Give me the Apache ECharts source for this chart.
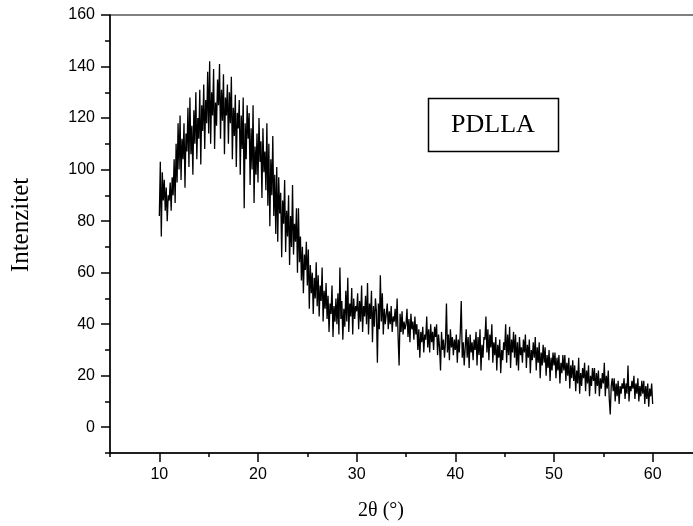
<!DOCTYPE html>
<html><head><meta charset="utf-8">
<script src="https://cdn.jsdelivr.net/npm/echarts@6/dist/echarts.min.js"></script>
<style>html,body{margin:0;padding:0;background:#fff}#c{width:693px;height:526px}</style>
</head><body><div id="c"></div>
<script>
// 2-theta sampling grid (degrees)
const angleStart = 10;
const angleStep = 0.1;
// Intensity, one row per degree (x.0 ... x.9)
const intensity = [
  82,103,74,99,88,96,84,93,80,90,
  88,95,84,97,90,104,87,110,95,118,
  100,121,96,112,104,118,93,114,107,124,
  101,128,106,117,98,123,110,130,104,120,
  112,131,102,125,115,133,108,127,118,138,
  114,142,110,130,121,139,108,126,117,135,
  125,141,112,131,119,137,106,128,121,133,
  110,130,118,136,104,124,113,129,101,122,
  116,127,98,121,108,128,85,118,104,125,
  112,122,94,116,100,125,87,109,98,114,
  95,120,103,111,89,116,99,107,92,118,
  86,110,78,104,90,113,82,98,75,101,
  72,97,83,91,66,88,79,96,68,84,
  74,90,63,82,70,94,67,79,72,85,
  60,85,64,74,57,70,52,67,61,72,
  55,69,46,63,52,60,44,58,50,64,
  47,59,43,55,49,62,41,53,46,56,
  42,51,37,48,44,55,35,47,41,50,
  40,52,36,62,42,49,34,46,39,53,
  41,58,37,48,43,54,36,50,42,47,
  45,52,38,49,41,55,37,47,43,51,
  40,56,36,48,42,53,33,47,39,50,
  45,25,48,38,59,41,52,36,46,40,
  44,48,38,45,40,47,37,43,41,46,
  39,50,35,24,44,37,45,36,41,38,
  40,46,35,42,33,44,38,41,34,43,
  36,40,30,38,27,37,33,39,29,36,
  34,43,31,38,29,40,33,37,30,39,
  35,40,28,36,31,22,37,30,34,27,
  33,48,29,36,26,38,31,35,28,34,
  30,36,25,34,29,37,49,27,33,24,
  31,38,27,35,23,36,29,33,26,34,
  30,37,24,35,28,38,22,32,27,35,
  34,43,29,38,26,36,31,40,25,33,
  28,35,22,32,27,34,21,30,26,33,
  30,40,25,36,28,39,23,34,29,37,
  27,36,24,33,22,35,28,31,25,34,
  29,36,23,32,27,34,21,30,26,33,
  27,35,22,31,25,33,19,29,24,32,
  25,31,20,28,23,30,18,27,22,29,
  24,29,19,27,22,28,17,25,21,28,
  22,28,18,25,20,27,15,24,19,26,
  18,24,14,22,17,27,13,21,16,23,
  19,25,14,22,17,24,12,20,16,23,
  18,23,13,21,16,22,12,19,15,21,
  17,25,12,20,15,22,11,5,16,19,
  14,19,10,17,12,18,9,16,13,17,
  15,19,11,17,13,24,10,16,14,18,
  15,20,11,17,13,19,10,16,12,18,
  13,18,9,16,11,17,8,15,12,17,
  9
];
const xTickLabels = [10, 20, 30, 40, 50, 60];
const yTickLabels = [0, 20, 40, 60, 80, 100, 120, 140, 160];
const xTitle = '2θ (°)';
const yTitle = 'Intenzitet';
const sampleLabel = 'PDLLA';

const points = intensity.map((v, i) => [+(angleStart + i * angleStep).toFixed(2), v]);

const chart = echarts.init(document.getElementById('c'), null, {renderer: 'canvas'});
const black = '#000';
const tickFont = {fontFamily: 'Liberation Sans', fontSize: 16, color: black};

chart.setOption({
  animation: false,
  backgroundColor: '#fff',
  grid: [
    {left: 110, right: -9, top: 15, bottom: 73, show: true, borderColor: black, borderWidth: 1,
     backgroundColor: 'transparent', containLabel: false, outerBoundsMode: 'none'},
    {left: 159.3, right: -9, top: 15, bottom: 98.8, show: false, containLabel: false, outerBoundsMode: 'none'}
  ],
  xAxis: [
    {gridIndex: 0, type: 'value', min: 5, max: 65, interval: 5,
     axisLine: {show: true, onZero: false, lineStyle: {color: black, width: 1.5}},
     axisTick: {show: true, length: 4, lineStyle: {color: black, width: 1.5}},
     axisLabel: {show: false}, splitLine: {show: false}},
    {gridIndex: 1, type: 'value', min: 10, max: 65, interval: 10, offset: 25.8,
     axisLine: {show: false, onZero: false},
     axisTick: {show: true, length: 9, lineStyle: {color: black, width: 1.5}},
     axisLabel: Object.assign({margin: 14, formatter: v => xTickLabels.includes(v) ? String(v) : ''}, tickFont),
     splitLine: {show: false}}
  ],
  yAxis: [
    {gridIndex: 0, type: 'value', min: -10, max: 160, interval: 10,
     axisLine: {show: true, onZero: false, lineStyle: {color: black, width: 1.5}},
     axisTick: {show: true, length: 5, lineStyle: {color: black, width: 1.5}},
     axisLabel: {show: false}, splitLine: {show: false}},
    {gridIndex: 1, type: 'value', min: 0, max: 160, interval: 20, offset: 49.3,
     axisLine: {show: false, onZero: false},
     axisTick: {show: true, length: 9, lineStyle: {color: black, width: 1.5}},
     axisLabel: Object.assign({margin: 15, formatter: v => yTickLabels.includes(v) ? String(v) : ''}, tickFont),
     splitLine: {show: false}}
  ],
  series: [{
    type: 'line', xAxisIndex: 0, yAxisIndex: 0, data: points,
    showSymbol: false, symbol: 'none', sampling: false,
    lineStyle: {color: black, width: 1.3}
  }],
  graphic: [
    {type: 'text', x: 21, y: 225, rotation: Math.PI / 2,
     style: {text: yTitle, font: '25px "Liberation Serif"', fill: black, textAlign: 'center', textVerticalAlign: 'middle'}},
    {type: 'text', x: 381, y: 511,
     style: {text: xTitle, font: '20px "Liberation Serif"', fill: black, textAlign: 'center', textVerticalAlign: 'middle'}},
    {type: 'rect', shape: {x: 428.5, y: 98.5, width: 130, height: 53},
     style: {fill: 'none', stroke: black, lineWidth: 1.5}},
    {type: 'text', x: 493, y: 125,
     style: {text: sampleLabel, font: '26px "Liberation Serif"', fill: black, textAlign: 'center', textVerticalAlign: 'middle'}}
  ]
});
</script></body></html>
